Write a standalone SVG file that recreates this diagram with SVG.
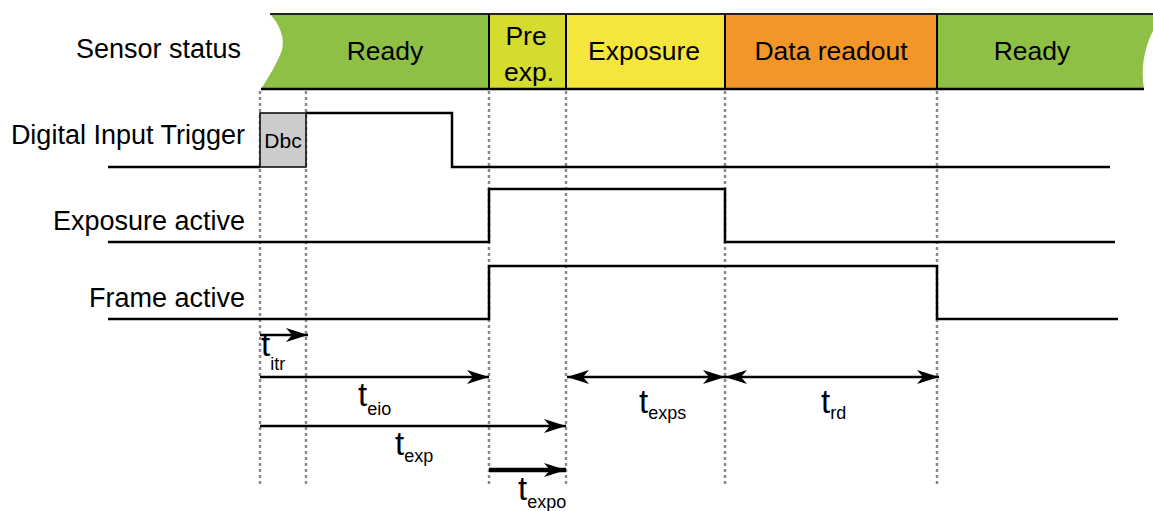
<svg xmlns="http://www.w3.org/2000/svg" width="1153" height="511" viewBox="0 0 1153 511">
<defs>
<style>
text{font-family:"Liberation Sans",Arial,sans-serif;fill:#000}
.lbl{font-size:27px}
.ban{font-size:26.5px;text-anchor:middle}
.t{font-size:33px}
.sub{font-size:18px}
.sig{fill:none;stroke:#000;stroke-width:2.5;stroke-linejoin:miter}
.dot{stroke:#8a8a8a;stroke-width:2.5;stroke-dasharray:3 3;fill:none}
.div{stroke:#000;stroke-width:2}
.arr{stroke:#000;stroke-width:2.5;fill:none;marker-end:url(#ah)}
.darr{stroke:#000;stroke-width:2.5;fill:none;marker-end:url(#ah);marker-start:url(#ah)}
</style>
<marker id="ah" markerUnits="userSpaceOnUse" markerWidth="22" markerHeight="14" refX="22" refY="7" orient="auto-start-reverse">
<path d="M0,0 L22,7 L0,14 L6,7 Z" fill="#000"/>
</marker>
</defs>
<rect width="1153" height="511" fill="#fff"/>

<text class="lbl" x="76" y="58">Sensor status</text>

<g id="ready1">
<path d="M270,14 L489,14 L489,89 L261,89 C268,78 278,62 282,50 C285,38 280,25 270,14 Z" fill="#8ec045"/>
<text class="ban" x="385" y="60">Ready</text>
</g>
<g id="preexp">
<rect x="489" y="14" width="77" height="75" fill="#d4dc2d"/>
<text class="ban" x="526" y="45">Pre</text>
<text class="ban" x="529" y="81">exp.</text>
</g>
<g id="exposure">
<rect x="566" y="14" width="159" height="75" fill="#f4e63c"/>
<text class="ban" x="644" y="60">Exposure</text>
</g>
<g id="readout">
<rect x="725" y="14" width="212" height="75" fill="#f39629"/>
<text class="ban" x="831" y="60">Data readout</text>
</g>
<g id="ready2">
<path d="M937,14 L1153,14 L1153,31 C1146,44 1140,66 1144,89 L937,89 Z" fill="#8ec045"/>
<text class="ban" x="1032" y="60">Ready</text>
</g>
<g id="banner-lines">
<line x1="270" y1="14" x2="1153" y2="14" stroke="#222" stroke-width="2"/>
<line x1="261" y1="89" x2="1144" y2="89" stroke="#000" stroke-width="2.5"/>
<line class="div" x1="489" y1="14" x2="489" y2="89"/>
<line class="div" x1="566" y1="14" x2="566" y2="89"/>
<line class="div" x1="725" y1="14" x2="725" y2="89"/>
<line class="div" x1="937" y1="14" x2="937" y2="89"/>
</g>

<g id="guides">
<line class="dot" x1="260" y1="91" x2="260" y2="487"/>
<line class="dot" x1="306" y1="91" x2="306" y2="487"/>
<line class="dot" x1="489" y1="91" x2="489" y2="487"/>
<line class="dot" x1="566" y1="91" x2="566" y2="487"/>
<line class="dot" x1="725" y1="91" x2="725" y2="487"/>
<line class="dot" x1="937" y1="91" x2="937" y2="487"/>
</g>

<g id="trigger">
<text class="lbl" x="245" y="144" text-anchor="end">Digital Input Trigger</text>
<rect x="260" y="113" width="46" height="54" fill="#cccccc" stroke="#000" stroke-width="1.5"/>
<text x="283" y="148" font-size="21" text-anchor="middle">Dbc</text>
<path class="sig" d="M108,167 L260,167 M306,113 L452,113 L452,167 L1110,167"/>
</g>
<g id="exposure-active">
<text class="lbl" x="245" y="230" text-anchor="end">Exposure active</text>
<path class="sig" d="M108,242 L489,242 L489,189 L725,189 L725,242 L1115,242"/>
</g>
<g id="frame-active">
<text class="lbl" x="245" y="307" text-anchor="end">Frame active</text>
<path class="sig" d="M108,319 L489,319 L489,266 L937,266 L937,319 L1118,319"/>
</g>

<g id="connectors">
<line class="arr" x1="260" y1="335" x2="308" y2="335"/>
<line class="arr" x1="260" y1="377" x2="489" y2="377"/>
<line class="arr" x1="260" y1="426" x2="566" y2="426"/>
<line class="arr" x1="489" y1="470" x2="566" y2="470" style="stroke-width:4.5"/>
<line class="darr" x1="567" y1="377" x2="725" y2="377"/>
<line class="darr" x1="725" y1="377" x2="939" y2="377"/>
</g>

<g id="labels">
<text x="261" y="356"><tspan class="t">t</tspan><tspan class="sub" dy="14">itr</tspan></text>
<text x="358" y="406"><tspan class="t">t</tspan><tspan class="sub" dy="9">eio</tspan></text>
<text x="395" y="455"><tspan class="t">t</tspan><tspan class="sub" dy="7">exp</tspan></text>
<text x="518" y="500"><tspan class="t">t</tspan><tspan class="sub" dy="8">expo</tspan></text>
<text x="639" y="413"><tspan class="t">t</tspan><tspan class="sub" dy="6">exps</tspan></text>
<text x="821" y="413"><tspan class="t">t</tspan><tspan class="sub" dy="6">rd</tspan></text>
</g>
</svg>
